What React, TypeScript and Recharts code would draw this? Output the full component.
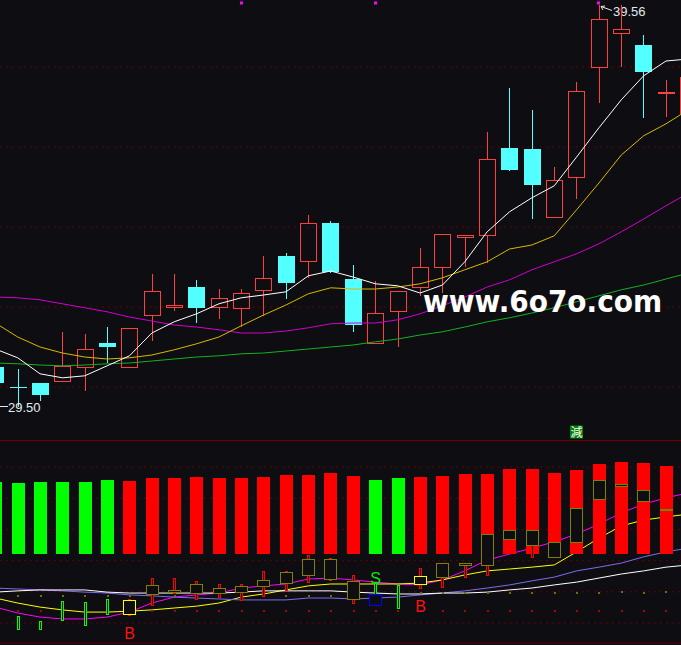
import React from 'react';
import { ComposedChart, Bar, Line, XAxis, YAxis, ReferenceLine, Scatter } from 'recharts';

const BG = '#0e0e12';
const W = 681;
const TOP_H = 440;
const LOW_TOP = 420;
const LOW_H = 225;
const RED = '#fa4040';
const CYAN = '#54ffff';
const GRID = '#650000';

// ---------- shared x categories ----------
const IDX = [0,1,2,3,4,5,6,7,8,9,10,11,12,13,14,15,16,17,18,19,20,21,22,23,24,25,26,27,28,29,30,31];
const X_DOMAIN: [number, number] = [0.208, 30.671];

// ---------- price panel ----------
const OPEN  = [30.50,30.00,30.10,30.15,30.50,31.10,30.50,31.80,32.00,32.50,32.00,31.98,32.43,33.28,33.15,34.10,32.70,31.10,31.90,32.50,33.00,33.75,33.80,35.98,35.95,34.25,35.25,38.00,38.85,38.55,37.36,36.85];
const HIGH  = [30.68,30.45,30.10,31.38,31.33,31.50,31.48,32.83,32.83,32.68,32.45,32.45,33.28,33.35,34.30,34.15,33.05,32.65,32.40,33.48,33.83,33.80,36.38,37.48,36.93,35.50,37.63,39.56,39.55,38.80,37.68,37.75];
const LOW   = [30.03,29.50,29.65,30.15,29.90,30.60,30.50,31.15,31.90,31.60,31.70,31.50,31.78,32.20,32.73,32.85,31.38,31.10,31.00,32.28,32.35,33.00,33.10,35.40,34.20,34.25,34.70,37.10,38.00,36.73,36.75,36.80];
const CLOSE = [30.10,29.99,29.80,30.53,30.95,31.00,31.48,32.40,32.05,31.98,32.23,32.35,32.73,32.60,34.10,32.88,31.55,31.85,32.40,33.00,33.83,33.80,35.70,35.43,35.05,35.18,37.40,39.20,38.95,37.88,37.38,37.75];
const MA5   = [30.95,30.73,30.33,30.23,30.28,30.53,30.78,31.35,31.63,31.83,32.08,32.23,32.30,32.38,32.78,32.90,32.75,32.58,32.53,32.35,32.55,33.13,33.88,34.38,34.73,35.03,35.75,36.48,37.18,37.78,38.15,38.20];
const MA10  = [31.60,31.25,31.00,30.85,30.75,30.70,30.73,30.80,30.93,31.08,31.25,31.53,31.80,32.05,32.33,32.48,32.45,32.45,32.50,32.58,32.73,32.93,33.13,33.45,33.55,33.78,34.43,35.10,35.80,36.28,36.58,36.93];
const MA20  = [32.25,32.23,32.18,32.08,31.98,31.88,31.75,31.65,31.55,31.50,31.43,31.35,31.35,31.40,31.48,31.58,31.60,31.60,31.68,31.83,32.03,32.25,32.50,32.68,32.93,33.13,33.33,33.58,33.88,34.20,34.53,34.85];
const MA60  = [30.60,30.58,30.55,30.53,30.55,30.58,30.60,30.65,30.70,30.75,30.78,30.83,30.85,30.90,30.95,31.00,31.05,31.13,31.20,31.30,31.38,31.50,31.63,31.73,31.85,31.98,32.13,32.28,32.43,32.55,32.70,32.85];
const PRICE_DOMAIN: [number, number] = [28.675, 39.675];
const PRICE_GRID = [30, 32, 34, 36, 38];
const TOP_MARK_IDX = [11, 17, 27];
const TOP_MARK_VAL = 39.6;

// ---------- indicator panel ----------
const OSC_BASE = 22.1;
const OSC = [45.3,44.9,45.2,45.2,45.2,45.8,45.5,46.5,46.5,46.8,46.5,46.5,46.8,47.4,47.4,48.1,47.1,45.8,46.5,46.8,47.1,47.8,47.8,49.4,49.4,48.1,49.0,51.0,51.6,51.3,50.3,50.0];
const OSC_DIR = ['g','g','g','g','g','g','r','r','r','r','r','r','r','r','r','r','r','g','g','r','r','r','r','r','r','r','r','r','r','r','r','r'];
const K2_KIND = [null,'g','g','g','g','g','y','o','o','o','o','o','o','o','o','o','o','b','g','y','o','o','o','o','o','o','o','o','o','o','o','o'];
const K2_HI  = [null,2.2,0.6,7.1,6.7,7.7,7.7,14.4,14.4,13.5,12.5,12.5,16.7,16.7,21.8,20.8,15.4,13.1,12.2,17.6,19.2,19.2,28.5,29.8,29.8,26.0,36.9,45.8,44.6,42.6,36.5,35.5];
const K2_LO  = [null,-1.9,-1.9,1.0,-0.6,2.9,2.6,5.8,9.6,7.7,8.3,7.4,8.7,10.6,13.1,13.8,6.4,5.8,4.8,11.2,11.5,14.7,15.4,26.9,21.2,21.2,26.0,39.7,43.9,39.1,36.2,34.6];
const K2_TOP = [null,null,null,null,null,null,7.4,12.2,10.6,12.5,11.2,11.9,13.8,16.4,20.5,20.5,13.5,9.3,null,15.1,19.2,19.2,28.5,29.8,29.8,26.0,36.9,45.8,44.6,42.6,36.5,35.5];
const K2_BOT = [null,null,null,null,null,null,2.9,9.3,9.9,9.6,9.6,9.9,11.9,12.8,15.4,14.1,7.7,5.8,null,12.5,14.7,18.6,18.6,26.9,25.0,21.2,26.0,39.7,43.9,39.1,36.2,34.6];
const L_WHITE   = [9.9,10.3,10.6,10.6,10.6,9.9,9.6,9.6,9.6,9.6,9.6,9.9,10.3,10.3,10.3,10.3,9.9,9.6,9.3,9.3,9.6,9.6,9.9,10.6,11.2,12.2,13.1,14.4,15.7,16.7,17.9,18.6];
const L_PURPLE  = [11.2,10.9,10.6,10.3,9.9,9.6,9.0,8.7,8.3,8.0,7.7,7.4,7.4,7.4,8.0,8.0,7.7,8.0,8.3,9.0,9.6,10.3,11.2,12.2,13.5,14.7,16.7,17.9,19.2,21.2,22.8,24.0];
const L_YELLOW  = [8.0,6.4,5.1,4.2,3.5,3.5,3.8,4.2,4.8,5.4,6.4,8.3,9.3,10.6,11.9,12.5,12.5,12.5,12.5,12.8,13.8,15.4,16.7,17.3,17.9,18.6,22.8,27.2,31.1,33.0,34.0,34.9];
const L_MAGENTA = [5.1,3.2,1.9,1.3,1.3,1.9,3.5,6.4,8.3,9.0,9.6,11.2,11.9,12.5,14.1,14.4,13.8,13.1,12.5,12.2,13.8,16.7,20.2,22.1,24.0,26.0,28.5,31.7,35.3,38.1,40.1,41.7];
const DOT_RED   = [4.2,4.2,4.2,4.2,4.2,4.2,4.2,4.2,4.2,4.2,4.2,4.2,4.2,4.2,4.2,4.2,4.2,4.2,4.2,4.2,4.2,4.2,4.2,4.2,4.2,4.2,4.2,4.2,4.2,4.2,4.2,4.2];
const DOT_OLIVE = [9.0,9.0,9.0,9.0,9.0,9.0,9.0,9.0,9.0,9.0,9.0,9.0,9.0,9.0,9.0,9.0,9.0,9.3,9.3,9.9,9.9,9.9,9.9,9.9,9.9,9.9,9.9,9.9,10.3,9.9,10.3,10.3];
const LOW_DOMAIN: [number, number] = [-7.05, 65.06];
const LOW_GRID = [0, 10, 20, 30, 40, 50];
const LOW_DIVIDER = 58.5;
const LOW_BOTTOM = -6.4;
const SIG_IDX = [6, 17, 19];
const SIG_TXT = ['B', 'S', 'B'];
const SIG_VAL = [-3.2, 14.4, 5.4];
const SIG_COLOR = ['#ff1010', '#10e010', '#ff1010'];
const TAG_IDX = [26];
const TAG_TXT = ['減'];
const TAG_VAL = [61.1];

const MAX_HIGH = Math.max(...HIGH);
const MIN_LOW = Math.min(...LOW);

const topRows = IDX.map((i, k) => ({
  i, o: OPEN[k], h: HIGH[k], l: LOW[k], c: CLOSE[k],
  ma5: MA5[k], ma10: MA10[k], ma20: MA20[k], ma60: MA60[k],
}));
const markRows = TOP_MARK_IDX.map((i) => ({ i, v: TOP_MARK_VAL }));

const lowRows = IDX.map((i, k) => ({
  i, osc: OSC[k], dir: OSC_DIR[k],
  kk: K2_KIND[k], kh: K2_HI[k], kl: K2_LO[k], kt: K2_TOP[k], kb: K2_BOT[k],
  w: L_WHITE[k], p: L_PURPLE[k], y: L_YELLOW[k], m: L_MAGENTA[k],
}));
const dotRedRows = IDX.map((i, k) => ({ i, v: DOT_RED[k] }));
const dotOliveRows = IDX.map((i, k) => ({ i, v: DOT_OLIVE[k] }));
const sigRows = SIG_IDX.map((i, k) => ({ i, v: SIG_VAL[k], t: SIG_TXT[k], c: SIG_COLOR[k] }));
const tagRows = TAG_IDX.map((i, k) => ({ i, v: TAG_VAL[k], t: TAG_TXT[k] }));

const LABEL_FONT = '"Liberation Sans", Arial, sans-serif';

function Candle(props: any) {
  const { x, y, width, height, payload } = props;
  if (payload == null || x == null || y == null || height == null) return <g />;
  const top = Math.min(y, y + height);
  const span = Math.abs(height);
  const hi = payload.h, lo = payload.l, o = payload.o, c = payload.c;
  const py = (p: number) => top + ((hi - p) / (hi - lo)) * span;
  const X = Math.floor(x + width / 2);
  const up = c > o;
  const yHi = Math.round(py(hi)), yLo = Math.round(py(lo));
  const yT = Math.round(py(Math.max(o, c))), yB = Math.round(py(Math.min(o, c)));
  const els: any[] = [];
  if (up) {
    if (yT > yHi) els.push(<line key="wt" x1={X + 0.5} x2={X + 0.5} y1={yHi} y2={yT} stroke={RED} />);
    if (yLo > yB) els.push(<line key="wb" x1={X + 0.5} x2={X + 0.5} y1={yB} y2={yLo} stroke={RED} />);
    if (yB - yT >= 1) els.push(<rect key="b" x={X - 7.5} y={yT + 0.5} width={16} height={yB - yT} fill="none" stroke={RED} />);
    else els.push(<line key="b" x1={X - 8} x2={X + 9} y1={yT + 0.5} y2={yT + 0.5} stroke={RED} />);
  } else {
    els.push(<line key="w" x1={X + 0.5} x2={X + 0.5} y1={yHi} y2={yLo} stroke={CYAN} />);
    els.push(<rect key="b" x={X - 8} y={yT} width={17} height={Math.max(1, yB - yT)} fill={CYAN} />);
  }
  if (hi === MAX_HIGH) {
    els.push(
      <g key="hl" stroke="#e8e8e8" fill="none">
        <line x1={X + 2} y1={yHi + 1.5} x2={X + 13} y2={yHi + 5.5} />
        <line x1={X + 2} y1={yHi + 1.5} x2={X + 6} y2={yHi + 1} />
        <line x1={X + 2} y1={yHi + 1.5} x2={X + 4} y2={yHi + 5} />
      </g>
    );
    els.push(<text key="ht" x={X + 14} y={yHi + 11} fill="#e4e8ee" fontSize={13} fontFamily={LABEL_FONT}>{hi.toFixed(2)}</text>);
  }
  if (lo === MIN_LOW) {
    els.push(<line key="ll" x1={X - 18} x2={X - 10} y1={yLo - 0.5} y2={yLo - 0.5} stroke="#e8e8e8" />);
    els.push(<text key="lt" x={X - 10} y={yLo + 5} fill="#e4ecf4" fontSize={13} fontFamily={LABEL_FONT}>{lo.toFixed(2)}</text>);
  }
  return <g>{els}</g>;
}

function OscBar(props: any) {
  const { x, y, width, height, payload } = props;
  if (payload == null || x == null || y == null || height == null) return <g />;
  const top = Math.round(Math.min(y, y + height));
  const bot = Math.round(Math.max(y, y + height));
  const X = Math.floor(x + width / 2);
  return <rect x={X - 6} y={top} width={13} height={bot - top} fill={payload.dir === 'g' ? '#00ff00' : '#ff0000'} />;
}

function K2Candle(props: any) {
  const { x, y, width, height, payload } = props;
  if (payload == null || !payload.kk || x == null || y == null || height == null) return <g />;
  const top = Math.min(y, y + height);
  const span = Math.abs(height);
  const hi = payload.kh, lo = payload.kl;
  const py = (p: number) => top + ((hi - p) / (hi - lo)) * span;
  const X = Math.floor(x + width / 2);
  const yHi = Math.round(py(hi)), yLo = Math.round(py(lo));
  const kind = payload.kk;
  if (kind === 'g') {
    return <rect x={X - 0.5} y={yHi + 0.5} width={2} height={Math.max(1, yLo - yHi)} fill={BG} stroke="#00ff00" />;
  }
  const wickCol = kind === 'b' ? '#00ff00' : '#ff0000';
  const bodyCol = kind === 'b' ? '#0000ff' : kind === 'y' ? '#ffff00' : '#808000';
  const yT = Math.round(py(payload.kt)), yB = Math.round(py(payload.kb));
  return (
    <g>
      {yLo - yHi >= 1 && <rect x={X - 0.5} y={yHi + 0.5} width={2} height={yLo - yHi} fill={BG} stroke={wickCol} />}
      <rect x={X - 5.5} y={yT + 0.5} width={12} height={Math.max(1, yB - yT)} fill={BG} stroke={bodyCol} />
    </g>
  );
}

const MarkShape = (p: any) => <rect x={Math.floor(p.cx) - 1} y={Math.round(p.cy) - 1.5} width={3} height={3} fill="#ff00ff" />;
const RedDot = (p: any) => <rect x={Math.floor(p.cx)} y={Math.round(p.cy)} width={2} height={2} fill="#b00000" />;
const OliveDot = (p: any) => <rect x={Math.floor(p.cx)} y={Math.round(p.cy)} width={2} height={2} fill="#707000" />;
const SigShape = (p: any) => (
  <text x={Math.floor(p.cx) + 0.5} y={p.cy + 6} textAnchor="middle" fill={p.payload.c} fontSize={16} fontFamily={LABEL_FONT}>{p.payload.t}</text>
);
const TagShape = (p: any) => (
  <g>
    <rect x={Math.floor(p.cx) - 6} y={Math.round(p.cy) - 6.5} width={13} height={13} fill="#008000" />
    <text x={Math.floor(p.cx) + 0.5} y={p.cy + 5} textAnchor="middle" fill="#ffffff" fontSize={12} fontFamily='"Noto Sans CJK TC", "Noto Sans CJK SC", sans-serif'>{p.payload.t}</text>
  </g>
);

const lineProps = { type: 'linear' as const, dot: false, activeDot: false, strokeWidth: 1, isAnimationActive: false };

export default function App() {
  return (
    <div style={{ position: 'fixed', left: 0, top: 0, width: W, height: 645, background: BG, overflow: 'hidden' }}>
      <div style={{ position: 'absolute', left: 0, top: 0 }}>
        <ComposedChart width={W} height={TOP_H} data={topRows} margin={{ top: 0, right: 0, bottom: 0, left: 0 }}>
          <XAxis type="number" dataKey="i" domain={X_DOMAIN} allowDataOverflow hide />
          <YAxis type="number" domain={PRICE_DOMAIN} allowDataOverflow hide />
          {PRICE_GRID.map((p) => (
            <ReferenceLine key={p} y={p} stroke={GRID} strokeDasharray="2 4" zIndex={-100} />
          ))}
          <Bar dataKey={(d: any) => [d.l, d.h]} barSize={17} shape={Candle} isAnimationActive={false} zIndex={300} />
          <Line dataKey="ma60" stroke="#14b020" {...lineProps} zIndex={400} />
          <Line dataKey="ma20" stroke="#d000d0" {...lineProps} zIndex={400} />
          <Line dataKey="ma10" stroke="#d8b800" {...lineProps} zIndex={400} />
          <Line dataKey="ma5" stroke="#ffffff" {...lineProps} zIndex={400} />
          <Scatter data={markRows} dataKey="v" shape={MarkShape} isAnimationActive={false} zIndex={600} />
        </ComposedChart>
      </div>
      <svg style={{ position: 'absolute', left: 0, top: 0 }} width={W} height={TOP_H}>
        <text x={423} y={312} fill="#ffffff" fontSize={30} fontWeight="bold" fontFamily='"DejaVu Sans", sans-serif' textLength={239} lengthAdjust="spacingAndGlyphs">www.6o7o.com</text>
      </svg>
      <div style={{ position: 'absolute', left: 0, top: LOW_TOP }}>
        <ComposedChart width={W} height={LOW_H} data={lowRows} margin={{ top: 0, right: 0, bottom: 0, left: 0 }}>
          <XAxis xAxisId="b" type="number" dataKey="i" domain={X_DOMAIN} allowDataOverflow hide />
          <XAxis xAxisId="k" type="number" dataKey="i" domain={X_DOMAIN} allowDataOverflow hide />
          <YAxis type="number" domain={LOW_DOMAIN} allowDataOverflow hide />
          {LOW_GRID.map((v) => (
            <ReferenceLine key={v} xAxisId="b" y={v} stroke={GRID} strokeDasharray="2 4" zIndex={-100} />
          ))}
          <ReferenceLine xAxisId="b" y={LOW_DIVIDER} stroke="#7a0000" zIndex={-90} />
          <ReferenceLine xAxisId="b" y={LOW_BOTTOM} stroke="#5a0000" zIndex={-90} />
          <Line xAxisId="b" dataKey="m" stroke="#ff00ff" {...lineProps} zIndex={100} />
          <Line xAxisId="b" dataKey="y" stroke="#ffff00" {...lineProps} zIndex={100} />
          <Line xAxisId="b" dataKey="p" stroke="#7b6cf0" {...lineProps} zIndex={100} />
          <Line xAxisId="b" dataKey="w" stroke="#ffffff" {...lineProps} zIndex={100} />
          <Scatter xAxisId="b" data={dotRedRows} dataKey="v" shape={RedDot} isAnimationActive={false} zIndex={150} />
          <Scatter xAxisId="b" data={dotOliveRows} dataKey="v" shape={OliveDot} isAnimationActive={false} zIndex={150} />
          <Bar xAxisId="b" dataKey={(d: any) => [OSC_BASE, d.osc]} barSize={13} shape={OscBar} isAnimationActive={false} zIndex={300} />
          <Bar xAxisId="k" dataKey={(d: any) => (d.kk ? [d.kl, d.kh] : null)} barSize={13} shape={K2Candle} isAnimationActive={false} zIndex={350} />
          <Scatter xAxisId="b" data={sigRows} dataKey="v" shape={SigShape} isAnimationActive={false} zIndex={600} />
          <Scatter xAxisId="b" data={tagRows} dataKey="v" shape={TagShape} isAnimationActive={false} zIndex={600} />
        </ComposedChart>
      </div>
    </div>
  );
}
